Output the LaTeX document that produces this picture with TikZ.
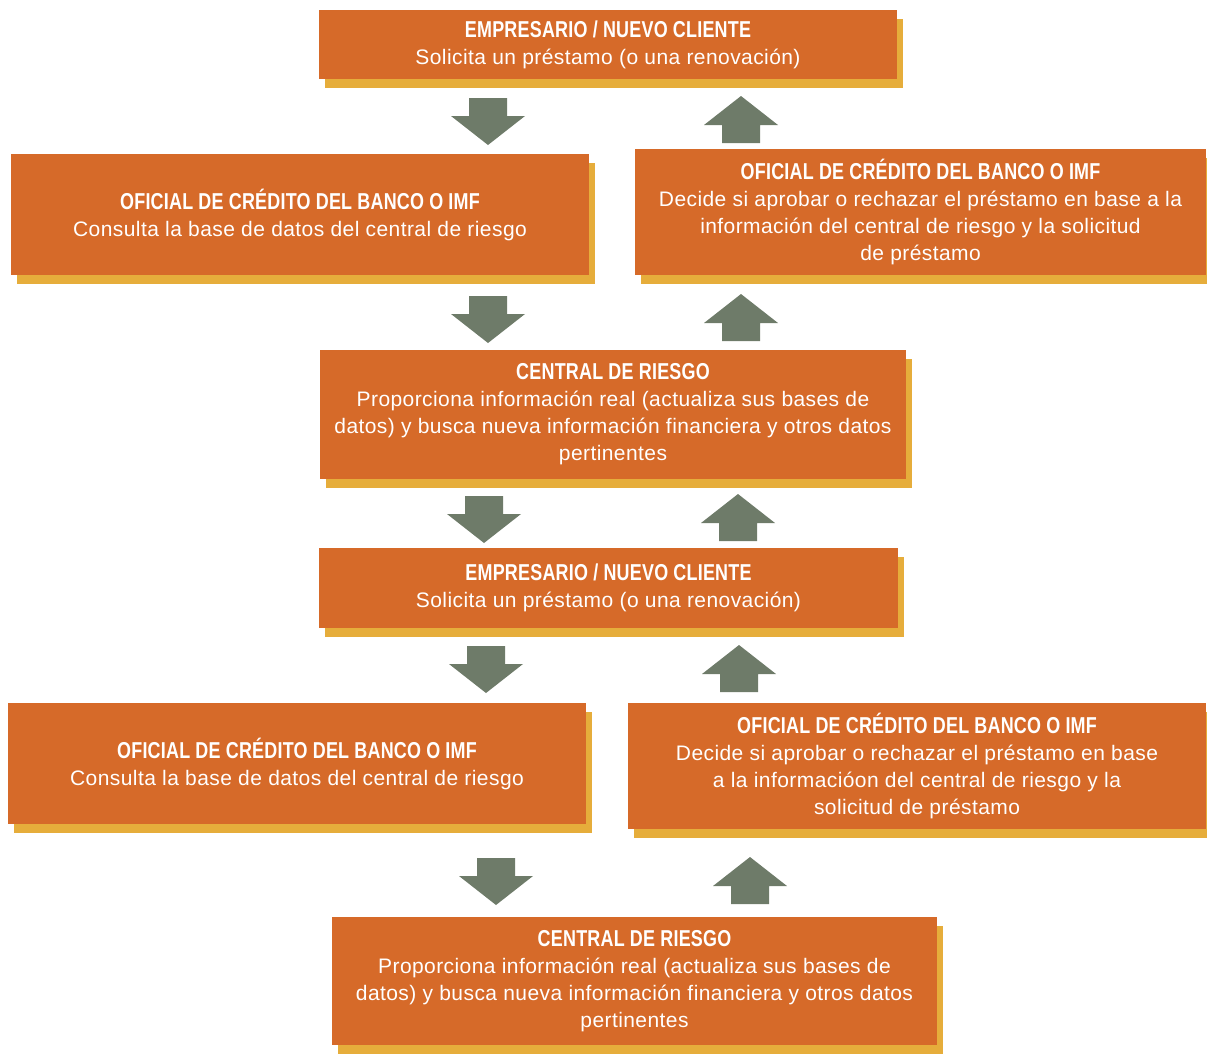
\documentclass[tikz,border=0pt]{standalone}
\usepackage{fontspec}
\setmainfont{Liberation Sans}[LetterSpace=2]
\newfontfamily\headfont{Liberation Sans}[FakeStretch=0.78,LetterSpace=1]
\usetikzlibrary{positioning,shadows}
\definecolor{boxorange}{HTML}{D66A29}
\definecolor{shadowyellow}{HTML}{E6AD3B}
\definecolor{arrowgreen}{HTML}{6E7B69}
\tikzstyle{obox}=[rectangle, fill=boxorange, text=white, align=center,
 inner sep=0pt, outer sep=0pt, anchor=north west,
 drop shadow={shadow xshift=6pt, shadow yshift=-9pt, fill=shadowyellow, opacity=1},
 font=\fontsize{21}{27}\selectfont]
\tikzset{dnarrow/.pic={\fill[arrowgreen] (-19,0) -- (19,0) -- (19,18) -- (37,18)
   -- (0,47) -- (-37,18) -- (-19,18) -- cycle;},
 uparrow/.pic={\fill[arrowgreen] (0,0) -- (37,29) -- (19,29) -- (19,47)
   -- (-19,47) -- (-19,29) -- (-37,29) -- cycle;}}
\newcommand{\boxhead}[1]{{\headfont\bfseries\fontsize{23}{27}\selectfont #1}}

\begin{document}
\begin{tikzpicture}[x=1pt,y=-1pt]
\useasboundingbox (0,0) rectangle (1207,1053);

\node (CLI1) [obox, minimum width=578, minimum height=69] at (319,10)
 {\boxhead{EMPRESARIO / NUEVO CLIENTE}\\Solicita un préstamo (o una renovación)};
\node (OFC1) [obox, minimum width=578, minimum height=121] at (11,154)
 {\boxhead{OFICIAL DE CRÉDITO DEL BANCO O IMF}\\Consulta la base de datos del central de riesgo};
\node (DEC1) [obox, minimum width=571, minimum height=126] at (635,149)
 {\boxhead{OFICIAL DE CRÉDITO DEL BANCO O IMF}\\Decide si aprobar o rechazar el préstamo en base a la\\
  información del central de riesgo y la solicitud\\de préstamo};
\node (CRG1) [obox, minimum width=586, minimum height=129] at (320,350)
 {\boxhead{CENTRAL DE RIESGO}\\Proporciona información real (actualiza sus bases de\\
  datos) y busca nueva información financiera y otros datos\\pertinentes};
\node (CLI2) [obox, minimum width=579, minimum height=80] at (319,548)
 {\boxhead{EMPRESARIO / NUEVO CLIENTE}\\Solicita un préstamo (o una renovación)};
\node (OFC2) [obox, minimum width=578, minimum height=121] at (8,703)
 {\boxhead{OFICIAL DE CRÉDITO DEL BANCO O IMF}\\Consulta la base de datos del central de riesgo};
\node (DEC2) [obox, minimum width=578, minimum height=126] at (628,703)
 {\boxhead{OFICIAL DE CRÉDITO DEL BANCO O IMF}\\Decide si aprobar o rechazar el préstamo en base\\
  a la informacióon del central de riesgo y la\\solicitud de préstamo};
\node (CRG2) [obox, minimum width=605, minimum height=128] at (332,917)
 {\boxhead{CENTRAL DE RIESGO}\\Proporciona información real (actualiza sus bases de\\
  datos) y busca nueva información financiera y otros datos\\pertinentes};

% flechas
\pic at (488,98) {dnarrow};  \pic at (741,96) {uparrow};
\pic at (488,296) {dnarrow}; \pic at (741,294) {uparrow};
\pic at (484,496) {dnarrow}; \pic at (738,494) {uparrow};
\pic at (486,646) {dnarrow}; \pic at (739,645) {uparrow};
\pic at (496,858) {dnarrow}; \pic at (750,857) {uparrow};

\end{tikzpicture}
\end{document}
